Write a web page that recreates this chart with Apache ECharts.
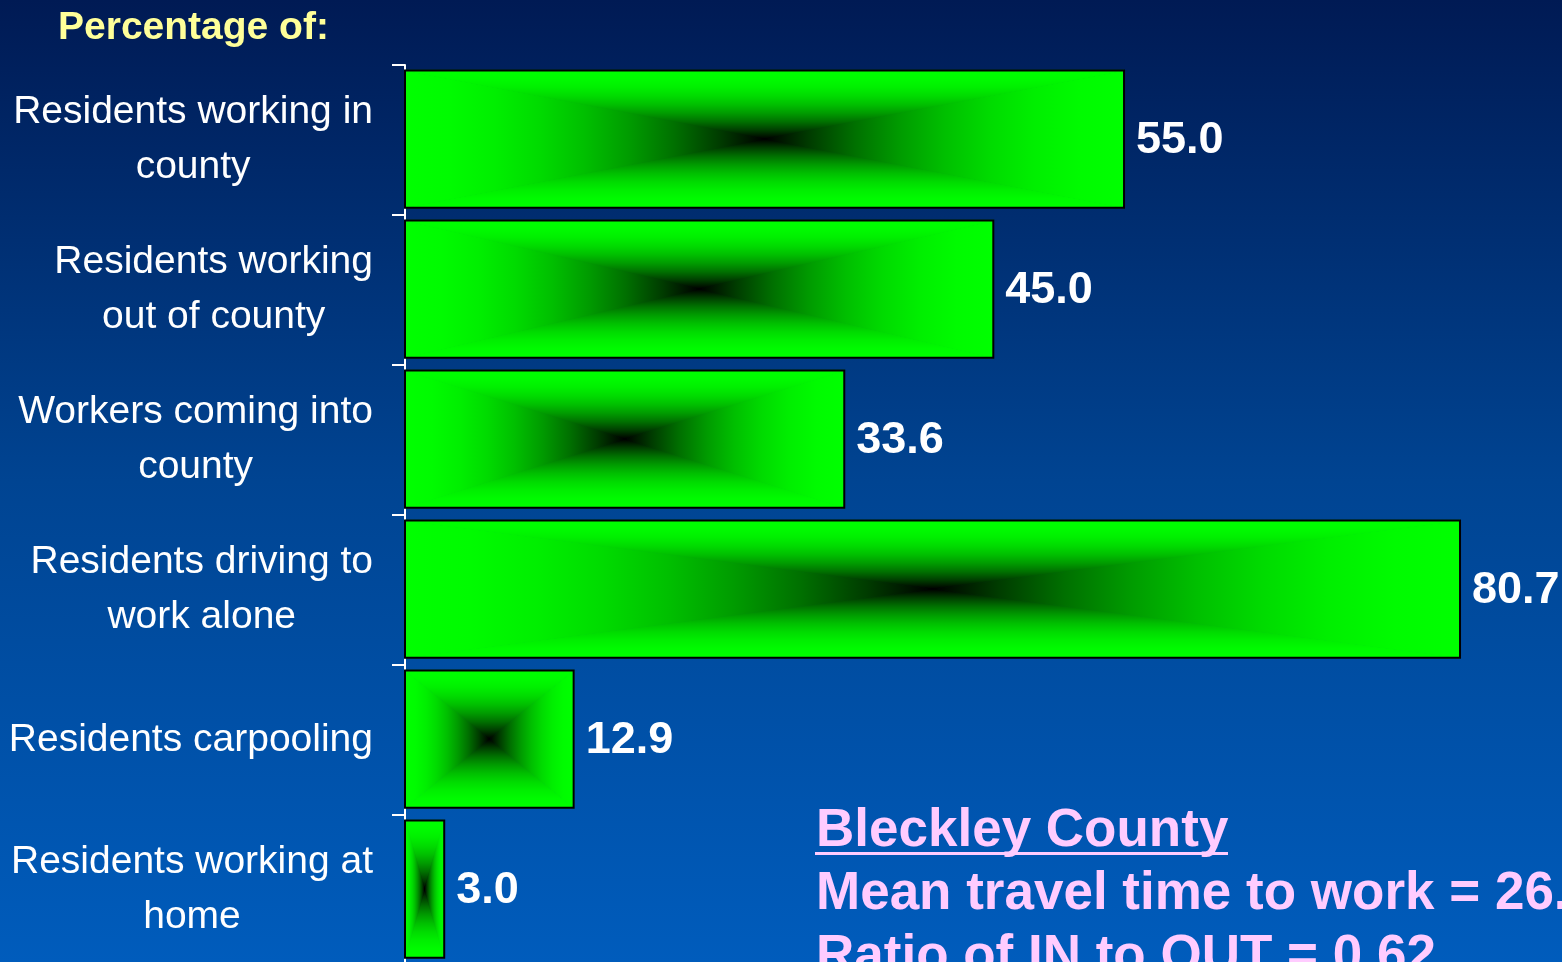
<!DOCTYPE html>
<html>
<head>
<meta charset="utf-8">
<style>
html,body{margin:0;padding:0;width:1562px;height:962px;overflow:hidden;background:#00306e;}
#c{width:1562px;height:962px;}
</style>
<script src="https://cdn.jsdelivr.net/npm/echarts@6/dist/echarts.min.js"></script>
</head>
<body>
<div id="c"></div>
<script>
var categories = [
  'Residents working in\ncounty',
  'Residents working\nout of county',
  'Workers coming into\ncounty',
  'Residents driving to\nwork alone',
  'Residents carpooling',
  'Residents working at\nhome'
];
var values = [55.0, 45.0, 33.6, 80.7, 12.9, 3.0];
var headerText = 'Percentage of:';
var infoLines = ['Bleckley County', 'Mean travel time to work = 26.', 'Ratio of IN to OUT = 0.62'];

var chart = echarts.init(document.getElementById('c'), null, {renderer: 'canvas'});

// edge (0) -> centre (1) brightness curve
var stops = [];
[0, 0.125, 0.25, 0.375, 0.5, 0.625, 0.75, 0.875, 1].forEach(function (o) {
  var b = Math.round(255 * (1 - o * o));
  stops.push({offset: o, color: 'rgb(0,' + b + ',0)'});
});
function grad(x, y, x2, y2) {
  return {type: 'linear', x: x, y: y, x2: x2, y2: y2, global: true, colorStops: stops};
}

function renderItem(params, api) {
  var cat = api.value(0);
  var v = api.value(1);
  var s = api.coord([0, cat]);
  var e = api.coord([v, cat]);
  var h = api.size([0, 1])[1] * 0.915;
  var x0 = s[0], x1 = e[0], cy = s[1] - 1, y0 = cy - h / 2, y1 = cy + h / 2, cx = (x0 + x1) / 2;
  function tri(pts, g) {
    return {type: 'polygon', shape: {points: pts}, style: {fill: g, stroke: g, lineWidth: 1}};
  }
  var gT = grad(0, y0, 0, cy), gB = grad(0, y1, 0, cy), gL = grad(x0, 0, cx, 0), gR = grad(x1, 0, cx, 0);
  return {
    type: 'group',
    children: [
      tri([[x0, y0], [x1, y0], [cx, cy]], gT),
      tri([[x0, y1], [x1, y1], [cx, cy]], gB),
      tri([[x0, y0], [x0, y1], [cx, cy]], gL),
      tri([[x1, y0], [x1, y1], [cx, cy]], gR),
      {type: 'rect', shape: {x: x0, y: y0, width: x1 - x0, height: h}, style: {fill: null, stroke: '#000', lineWidth: 2}},
      {type: 'text', style: {text: v.toFixed(1), x: x1 + 12, y: cy + 2, textAlign: 'left', textVerticalAlign: 'middle',
        fill: '#ffffff', font: 'bold 45px "Liberation Sans", Arial, sans-serif'}}
    ]
  };
}

var seriesData = values.map(function (v, i) { return [i, v]; });

chart.setOption({
  backgroundColor: 'transparent',
  animation: false,
  graphic: [
    {type: 'rect', z: -10, silent: true, shape: {x: 0, y: 0, width: 1562, height: 962},
      style: {fill: {type: 'linear', x: 0, y: 0, x2: 0, y2: 1, colorStops: [
        {offset: 0, color: '#001a54'}, {offset: 0.5, color: '#004492'}, {offset: 1, color: '#005cbc'}]}}},
    {type: 'text', left: 58, top: 9, style: {text: headerText, fill: '#ffff99',
      font: 'bold 39px "Liberation Sans", Arial, sans-serif'}},
    {type: 'text', x: 816, y: 831, style: {text: infoLines[0], fill: '#ffccff', textVerticalAlign: 'middle',
      font: 'bold 53px "Liberation Sans", Arial, sans-serif'}},
    {type: 'rect', shape: {x: 815, y: 852, width: 413, height: 3}, style: {fill: '#ffccff'}},
    {type: 'text', x: 816, y: 894, style: {text: infoLines[1], fill: '#ffccff', textVerticalAlign: 'middle',
      font: 'bold 53px "Liberation Sans", Arial, sans-serif'}},
    {type: 'text', x: 816, y: 957, style: {text: infoLines[2], fill: '#ffccff', textVerticalAlign: 'middle',
      font: 'bold 53px "Liberation Sans", Arial, sans-serif'}}
  ],
  grid: {left: 405, right: 0, top: 65, bottom: -3, outerBoundsMode: 'none', containLabel: false},
  xAxis: {type: 'value', min: 0, max: 88.5, show: false},
  yAxis: {
    type: 'category', data: categories, inverse: true,
    axisLine: {show: true, lineStyle: {color: '#ffffff', width: 2}},
    axisTick: {show: true, length: 13, lineStyle: {color: '#ffffff', width: 2}},
    axisLabel: {
      margin: 32, color: '#ffffff',
      formatter: function (val) {
        return val.split('\n').map(function (l) { return '{a|' + l + '}'; }).join('\n');
      },
      rich: {a: {align: 'center', fontSize: 39, lineHeight: 55, color: '#ffffff',
        fontFamily: '"Liberation Sans", Arial, sans-serif'}}
    },
    splitLine: {show: false}
  },
  series: [{
    type: 'custom',
    renderItem: renderItem,
    encode: {y: 0, x: 1},
    data: seriesData,
    clip: false
  }]
});
</script>
</body>
</html>
